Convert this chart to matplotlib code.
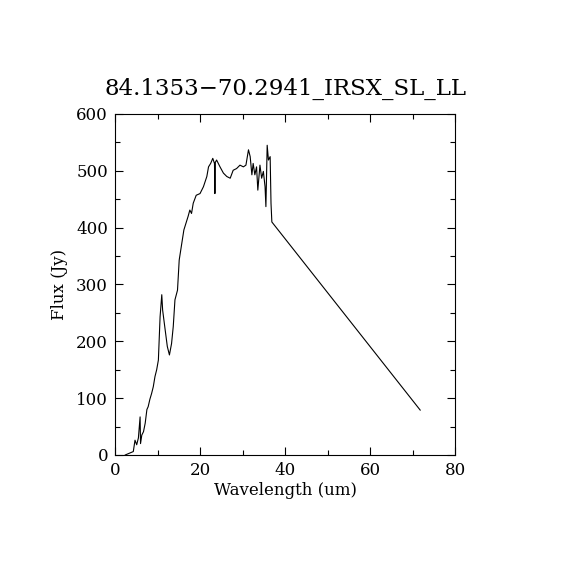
import numpy as np
import matplotlib.pyplot as plt
from matplotlib.ticker import MultipleLocator

# spectrum
wavelength = [2.4, 4.3, 4.7, 5.1, 5.5, 5.9, 6.0, 6.3, 6.7, 7.1, 7.5, 7.8, 8.2, 8.6,
              9.0, 9.4, 9.8, 10.2, 10.6, 11.0, 11.2, 11.8, 12.3, 12.8, 13.3, 13.7,
              14.1, 14.7, 15.1, 15.7, 16.2, 16.7, 17.2, 17.6, 18.0, 18.4, 19.1, 20.0,
              20.8, 21.6, 22.0, 22.5, 23.0, 23.4, 23.5, 23.6, 23.9, 24.7, 25.5, 26.3,
              27.1, 27.8, 28.6, 29.4, 30.2, 30.8, 31.4, 31.8, 32.2, 32.5, 32.9, 33.3,
              33.6, 34.1, 34.5, 34.9, 35.3, 35.5, 35.8, 36.1, 36.5, 36.7, 36.9, 71.8]
flux = [0, 6, 26, 18, 30, 67, 20, 35, 41, 56, 80, 85, 98, 108,
        120, 138, 150, 167, 243, 282, 255, 220, 191, 176, 196, 226,
        273, 290, 343, 372, 396, 408, 420, 431, 425, 443, 457, 460,
        472, 490, 507, 513, 522, 513, 460, 515, 519, 507, 496, 490,
        487, 501, 504, 510, 507, 510, 537, 525, 493, 513, 493, 507,
        466, 510, 487, 499, 472, 437, 545, 519, 525, 443, 410, 79]

fig = plt.figure(figsize=(5.7, 5.7), dpi=100)
ax = fig.add_axes([0.2018, 0.2018, 0.5965, 0.5982])
ax.plot(wavelength, flux, color='black', linewidth=0.8)

ax.set_xlim(0, 80)
ax.set_ylim(0, 600)
ax.xaxis.set_major_locator(MultipleLocator(20))
ax.xaxis.set_minor_locator(MultipleLocator(10))
ax.yaxis.set_major_locator(MultipleLocator(100))
ax.yaxis.set_minor_locator(MultipleLocator(50))
ax.tick_params(which='both', direction='in', top=True, right=True, width=0.8)
ax.tick_params(which='major', length=6, labelsize=12, pad=5)
ax.tick_params(which='minor', length=3.5)
for lab in ax.get_xticklabels() + ax.get_yticklabels():
    lab.set_family('DejaVu Serif')
for s in ax.spines.values():
    s.set_linewidth(0.8)

ax.set_xlabel('Wavelength (um)', family='DejaVu Serif', fontsize=12, labelpad=2)
ax.set_ylabel('Flux (Jy)', family='DejaVu Serif', fontsize=12, labelpad=6)
ax.set_title('84.1353\u221270.2941_IRSX_SL_LL', family='DejaVu Serif', fontsize=16.5, pad=14)

fig.savefig('out.png', dpi=100)
